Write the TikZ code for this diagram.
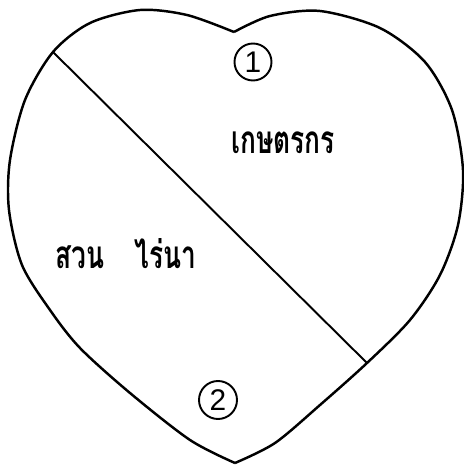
\documentclass[tikz,border=0pt]{standalone}
\usepackage{fontspec}
\newfontfamily\thaifont[Script=Thai]{Loma}
\newfontfamily\numfont{Liberation Sans}

\begin{document}
\begin{tikzpicture}
\useasboundingbox (0,0) rectangle (9.280,9.340);
% heart outline, left and right halves
\draw[line width=1.4pt] plot[smooth] coordinates {(4.680,8.700) (3.740,9.040) (2.800,9.140) (1.800,8.880) (1.060,8.300) (0.500,7.340) (0.200,6.140) (0.180,5.140) (0.440,4.040) (1.000,3.140) (1.600,2.380) (2.600,1.480) (3.800,0.540) (4.700,0.080)};
\draw[line width=1.4pt] plot[smooth] coordinates {(4.680,8.700) (5.400,9.020) (6.400,9.120) (7.600,8.780) (8.500,8.100) (9.040,7.140) (9.260,5.940) (9.160,4.840) (8.800,3.840) (8.200,2.940) (7.340,2.080) (6.400,1.240) (5.500,0.480) (4.700,0.080)};
% dividing line
\coordinate (cutA) at (1.060,8.300);
\coordinate (cutB) at (7.340,2.080);
\draw[line width=1.1pt] (cutA) -- (cutB);
% numbers
\node[circle, draw, line width=1.1pt, minimum size=0.74cm, inner sep=0pt, font=\numfont\fontsize{17}{17}\selectfont] (num1) at (5.060,8.100) {1};
\node[circle, draw, line width=1.1pt, minimum size=0.76cm, inner sep=0pt, font=\numfont\fontsize{17}{17}\selectfont] (num2) at (4.360,1.340) {2};
% labels
\node[anchor=base, inner sep=0pt, xscale=0.68, font=\thaifont\bfseries\fontsize{22}{22}\selectfont] (farmer) at (5.660,6.280) {เกษตรกร};
\node[anchor=base, inner sep=0pt, xscale=0.68, font=\thaifont\bfseries\fontsize{22}{22}\selectfont] (farm) at (2.520,3.980) {สวน\hspace{0.9cm}ไร่นา};
\end{tikzpicture}
\end{document}
